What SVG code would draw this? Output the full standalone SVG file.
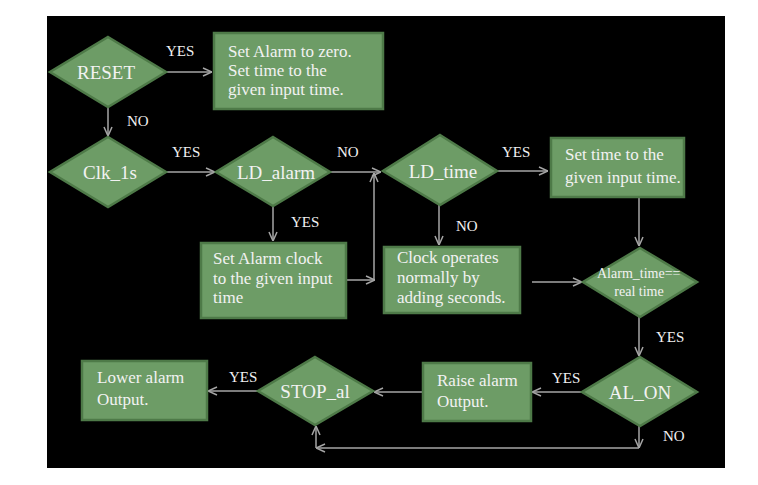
<svg xmlns="http://www.w3.org/2000/svg" width="758" height="485" viewBox="0 0 758 485">
<style>
.bg{fill:#000000}
.shape{fill:#6d9c66;stroke:#4e7a48;stroke-width:2.5}
.lbl{font-family:"Liberation Serif","Times New Roman",serif;fill:#f2f2f2}
.dt{font-size:19px;text-anchor:middle}
.bt{font-size:17px}
.cl{font-size:15px}
.con{fill:none;stroke:#a6a6a6;stroke-width:1.5}
</style>
<defs>
<marker id="ah" viewBox="0 0 10 10" refX="10" refY="5" markerWidth="10" markerHeight="10" markerUnits="userSpaceOnUse" orient="auto">
<path d="M1,1 L10,5 L1,9" fill="none" stroke="#a6a6a6" stroke-width="1.5"/>
</marker>
</defs>
<rect x="0" y="0" width="758" height="485" fill="#ffffff"/>
<rect class="bg" x="47" y="16" width="678" height="452"/>

<g id="connectors">
<line class="con" x1="166" y1="72" x2="212" y2="72" marker-end="url(#ah)"/>
<line class="con" x1="108" y1="107" x2="108" y2="136" marker-end="url(#ah)"/>
<line class="con" x1="166" y1="172" x2="215" y2="172" marker-end="url(#ah)"/>
<line class="con" x1="330" y1="172" x2="381" y2="172" marker-end="url(#ah)"/>
<line class="con" x1="273" y1="207" x2="273" y2="241" marker-end="url(#ah)"/>
<line class="con" x1="346" y1="280" x2="375" y2="280" marker-end="url(#ah)"/>
<line class="con" x1="374" y1="280" x2="374" y2="173" marker-end="url(#ah)"/>
<line class="con" x1="497" y1="171" x2="548" y2="171" marker-end="url(#ah)"/>
<line class="con" x1="439" y1="205" x2="439" y2="245" marker-end="url(#ah)"/>
<line class="con" x1="639" y1="197" x2="639" y2="246" marker-end="url(#ah)"/>
<line class="con" x1="532" y1="282" x2="582" y2="282" marker-end="url(#ah)"/>
<line class="con" x1="639" y1="317" x2="639" y2="356" marker-end="url(#ah)"/>
<line class="con" x1="582" y1="392" x2="532" y2="392" marker-end="url(#ah)"/>
<line class="con" x1="423" y1="392" x2="374" y2="392" marker-end="url(#ah)"/>
<line class="con" x1="258" y1="391" x2="208" y2="391" marker-end="url(#ah)"/>
<line class="con" x1="639" y1="426" x2="639" y2="448" marker-end="url(#ah)"/>
<line class="con" x1="639" y1="448" x2="316" y2="448" marker-end="url(#ah)"/>
<line class="con" x1="316" y1="448" x2="316" y2="426" marker-end="url(#ah)"/>
<text class="lbl cl" x="166" y="56">YES</text>
<text class="lbl cl" x="127" y="126">NO</text>
<text class="lbl cl" x="172" y="157">YES</text>
<text class="lbl cl" x="337" y="157">NO</text>
<text class="lbl cl" x="291" y="227">YES</text>
<text class="lbl cl" x="502" y="157">YES</text>
<text class="lbl cl" x="456" y="231">NO</text>
<text class="lbl cl" x="656" y="342">YES</text>
<text class="lbl cl" x="552" y="383">YES</text>
<text class="lbl cl" x="229" y="382">YES</text>
<text class="lbl cl" x="663" y="441">NO</text>
</g>

<g id="reset">
<polygon class="shape" points="108,37 166,72 108,107 50,72"/>
<text class="lbl dt" x="106" y="79">RESET</text>
</g>
<g id="box-reset">
<rect class="shape" x="214" y="33" width="169" height="76"/>
<text class="lbl bt" x="228" y="57">Set Alarm to zero.</text>
<text class="lbl bt" x="228" y="76">Set time to the</text>
<text class="lbl bt" x="228" y="95">given input time.</text>
</g>
<g id="clk1s">
<polygon class="shape" points="108,137 166,172 108,207 50,172"/>
<text class="lbl dt" x="110" y="179">Clk_1s</text>
</g>
<g id="ldalarm">
<polygon class="shape" points="273,137 330,172 273,206 216,172"/>
<text class="lbl dt" x="276" y="179">LD_alarm</text>
</g>
<g id="ldtime">
<polygon class="shape" points="440,135 497,171 440,205 383,171"/>
<text class="lbl dt" x="443" y="178">LD_time</text>
</g>
<g id="box-settime">
<rect class="shape" x="551" y="138" width="133" height="59"/>
<text class="lbl bt" x="565" y="160">Set time to the</text>
<text class="lbl bt" x="565" y="183">given input time.</text>
</g>
<g id="box-setalarm">
<rect class="shape" x="201" y="243" width="145" height="75"/>
<text class="lbl bt" x="213" y="264">Set Alarm clock</text>
<text class="lbl bt" x="213" y="284">to the given input</text>
<text class="lbl bt" x="213" y="303">time</text>
</g>
<g id="box-clock">
<rect class="shape" x="384" y="247" width="136" height="66"/>
<text class="lbl bt" x="397" y="263">Clock operates</text>
<text class="lbl bt" x="397" y="283">normally by</text>
<text class="lbl bt" x="397" y="303">adding seconds.</text>
</g>
<g id="alarmtime">
<polygon class="shape" points="640,248 697,282 640,317 583,282"/>
<text class="lbl" x="597" y="278" font-size="14">Alarm_time==</text>
<text class="lbl" x="639" y="296" font-size="14" text-anchor="middle">real time</text>
</g>
<g id="alon">
<polygon class="shape" points="640,357 697,392 640,426 582,392"/>
<text class="lbl dt" x="640" y="399">AL_ON</text>
</g>
<g id="box-raise">
<rect class="shape" x="423" y="363" width="108" height="58"/>
<text class="lbl bt" x="437" y="386">Raise alarm</text>
<text class="lbl bt" x="437" y="407">Output.</text>
</g>
<g id="stopal">
<polygon class="shape" points="315,357 373,391 315,425 258,391"/>
<text class="lbl dt" x="315" y="398">STOP_al</text>
</g>
<g id="box-lower">
<rect class="shape" x="82" y="361" width="125" height="59"/>
<text class="lbl bt" x="97" y="383">Lower alarm</text>
<text class="lbl bt" x="97" y="405">Output.</text>
</g>
</svg>
